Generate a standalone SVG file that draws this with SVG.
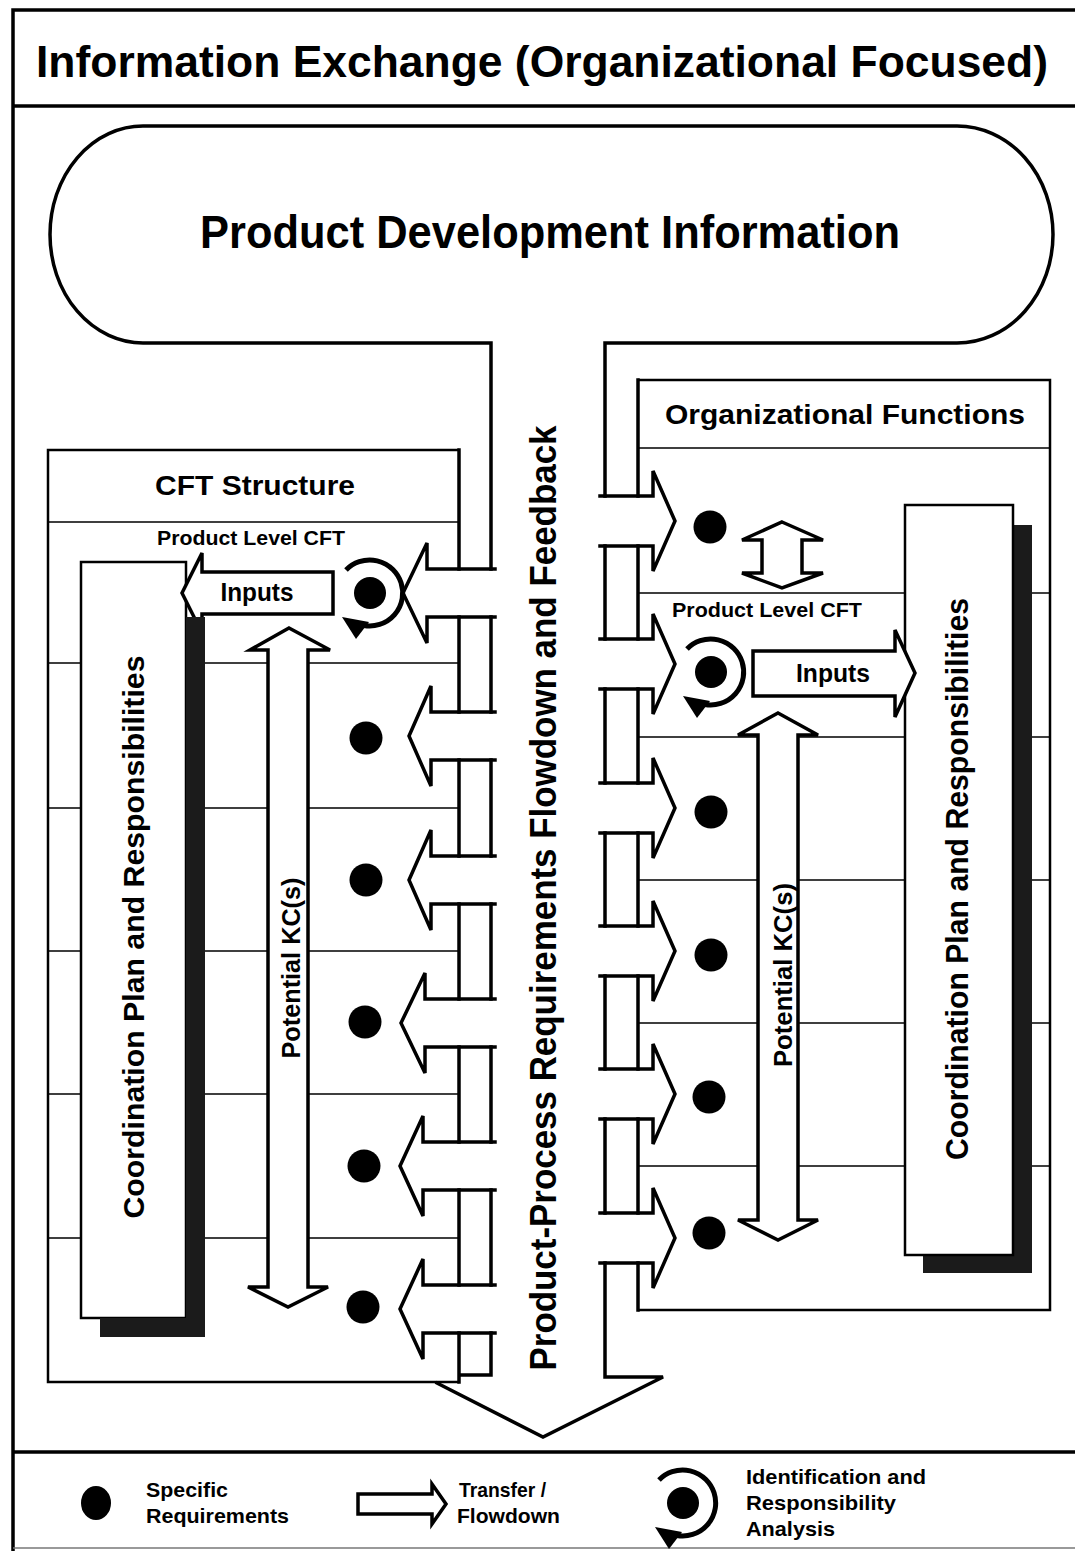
<svg xmlns="http://www.w3.org/2000/svg" xmlns:xlink="http://www.w3.org/1999/xlink" width="1075" height="1551" viewBox="0 0 1075 1551">
  <style>
    .frame { stroke:#000; stroke-width:3.5; fill:none; }
    .wall { stroke:#000; stroke-width:3.5; fill:none; stroke-linejoin:miter; stroke-linecap:square; }
    .box { stroke:#000; stroke-width:2.5; fill:none; }
    .row { stroke:#000; stroke-width:1.5; fill:none; }
    .panel { stroke:#000; stroke-width:2.5; fill:#fff; }
    .shadow { fill:#1b1b1b; }
    .blk { stroke:#000; stroke-width:3.5; fill:#fff; stroke-linejoin:miter; }
    .dot { fill:#000; }
    .t { font-family:"Liberation Sans", Arial, Helvetica, sans-serif; font-weight:bold; fill:#000; }
  </style>
  <defs>
    <!-- identification / responsibility symbol: open circular arrow -->
    <g id="idsym">
      <path d="M-24,-23 A33,33 0 1 1 -6,32.5" fill="none" stroke="#000" stroke-width="5"/>
      <polygon points="-28,24 -1,29 -14,46" fill="#000"/>
      <circle cx="0" cy="0" r="16" fill="#000"/>
    </g>
  </defs>

  <rect x="0" y="0" width="1075" height="1551" fill="#fff"/>

  <!-- page frame -->
  <g id="frame">
    <path class="frame" d="M13,1551 V10 H1075"/>
    <path class="frame" d="M13,106 H1075"/>
    <path class="frame" d="M13,1452 H1075"/>
    <path d="M13,1548 H1075" stroke="#777" stroke-width="1.5" fill="none"/>
    <text class="t" x="36" y="77" font-size="45" textLength="1012" lengthAdjust="spacingAndGlyphs">Information Exchange (Organizational Focused)</text>
  </g>

  <!-- CFT structure panel -->
  <g id="cft-structure">
    <path class="box" d="M459,450 H48 V1382 H459"/>
    <path class="row" d="M48,522 H459 M48,663 H459 M48,808 H459 M48,951 H459 M48,1094 H459 M48,1238 H459"/>
    <text class="t" x="255" y="495" font-size="28" text-anchor="middle" textLength="200" lengthAdjust="spacingAndGlyphs">CFT Structure</text>
    <text class="t" x="157" y="545" font-size="20" textLength="188" lengthAdjust="spacingAndGlyphs">Product Level CFT</text>
  </g>

  <!-- Organizational functions panel -->
  <g id="org-functions">
    <path class="box" d="M638,380 H1050 V1310 H638"/>
    <path class="row" d="M638,448 H1050 M638,593 H1050 M638,737 H1050 M638,880 H1050 M638,1023 H1050 M638,1166 H1050"/>
    <text class="t" x="845" y="424" font-size="28" text-anchor="middle" textLength="360" lengthAdjust="spacingAndGlyphs">Organizational Functions</text>
    <text class="t" x="672" y="617" font-size="20" textLength="190" lengthAdjust="spacingAndGlyphs">Product Level CFT</text>
  </g>

  <!-- coordination plan boxes with drop shadows -->
  <g id="coord-left">
    <rect class="panel" x="81" y="562" width="105" height="756"/>
    <text class="t" font-size="30" text-anchor="middle" textLength="563" lengthAdjust="spacingAndGlyphs" transform="translate(144,937) rotate(-90)">Coordination Plan and Responsibilities</text>
  </g>
  <g id="coord-right">
    <rect class="shadow" x="1013" y="525" width="19" height="748"/>
    <rect class="shadow" x="923" y="1255" width="109" height="18"/>
    <rect class="panel" x="905" y="505" width="108" height="750"/>
    <text class="t" font-size="31" text-anchor="middle" textLength="562" lengthAdjust="spacingAndGlyphs" transform="translate(968,879) rotate(-90)">Coordination Plan and Responsibilities</text>
  </g>

  <!-- potential KC double arrows -->
  <g id="kc-left">
    <path class="blk" d="M289,628 L330,650 H308 V1287 H328 L288,1307 L248,1287 H268 V650 H250 Z"/>
    <text class="t" font-size="25" text-anchor="middle" textLength="181" lengthAdjust="spacingAndGlyphs" transform="translate(300,968) rotate(-90)">Potential KC(s)</text>
  </g>
  <g id="kc-right">
    <path class="blk" d="M778,713 L818,735 H798 V1220 H818 L778,1240 L738,1220 H758 V735 H738 Z"/>
    <text class="t" font-size="26" text-anchor="middle" textLength="184" lengthAdjust="spacingAndGlyphs" transform="translate(792,975) rotate(-90)">Potential KC(s)</text>
  </g>
  <g id="link-right">
    <path class="blk" d="M782,522 L823,540 H802 V573 H823 L782,588 L742,573 H762 V540 H742 Z"/>
  </g>

  <!-- inputs arrows -->
  <g id="inputs-left">
    <path class="blk" d="M333,572 H202 V553 L182,593 L202,633 V614 H333 Z"/>
    <text class="t" x="257" y="601" font-size="25" text-anchor="middle" textLength="73" lengthAdjust="spacingAndGlyphs">Inputs</text>
  </g>
  <g id="shadow-left">
    <rect class="shadow" x="186" y="617" width="19" height="720"/>
    <rect class="shadow" x="100" y="1318" width="105" height="19"/>
  </g>
  <g id="inputs-right">
    <path class="blk" d="M753,651 H895 V630 L915,673 L895,717 V696 H753 Z"/>
    <text class="t" x="833" y="682" font-size="25" text-anchor="middle" textLength="74" lengthAdjust="spacingAndGlyphs">Inputs</text>
  </g>

  <!-- product development information source and flowdown channel -->
  <g id="connectors">
    <path class="wall" d="M491,569 V343 H143 A93,108.5 0 0 1 143,126 H957 A96,108.5 0 0 1 957,343 H605 V496"/>
    <!-- left branch arrows -->
    <path class="wall" d="M495,569 H427 V543 L403,593 L427,643 V617 H495"/>
    <path class="wall" d="M495,712 H431 V686 L409,736 L431,786 V760 H495"/>
    <path class="wall" d="M495,856 H431 V830 L409,880 L431,930 V904 H495"/>
    <path class="wall" d="M495,999 H425 V973 L401,1023 L425,1073 V1047 H495"/>
    <path class="wall" d="M495,1142 H423 V1116 L400,1166 L423,1216 V1190 H495"/>
    <path class="wall" d="M495,1285 H423 V1259 L400,1309 L423,1359 V1333 H495"/>
    <path class="wall" d="M459,450 V569 M459,617 V712 M491,617 V712 M459,760 V856 M491,760 V856 M459,904 V999 M491,904 V999 M459,1047 V1142 M491,1047 V1142 M459,1190 V1285 M491,1190 V1285 M459,1333 V1382 M491,1333 V1375 H459"/>
    <!-- right branch arrows -->
    <path class="wall" d="M600,496 H653 V471 L675,521 L653,571 V546 H600"/>
    <path class="wall" d="M600,639 H653 V614 L675,664 L653,714 V689 H600"/>
    <path class="wall" d="M600,783 H653 V758 L675,808 L653,858 V833 H600"/>
    <path class="wall" d="M600,926 H653 V901 L675,951 L653,1001 V976 H600"/>
    <path class="wall" d="M600,1069 H653 V1044 L675,1094 L653,1144 V1119 H600"/>
    <path class="wall" d="M600,1213 H653 V1188 L675,1238 L653,1288 V1263 H600"/>
    <path class="wall" d="M638,380 V496 M605,546 V639 M638,546 V639 M605,689 V783 M638,689 V783 M605,833 V926 M638,833 V926 M605,976 V1069 M638,976 V1069 M605,1119 V1213 M638,1119 V1213 M638,1263 V1310"/>
    <!-- main flowdown arrowhead -->
    <path class="wall" d="M605,1263 V1377 H663 L543,1437 L437,1383"/>
  </g>

  <g id="source">
    <text class="t" x="550" y="248" font-size="46" text-anchor="middle" textLength="700" lengthAdjust="spacingAndGlyphs">Product Development Information</text>
    <text class="t" font-size="37" text-anchor="middle" textLength="945" lengthAdjust="spacingAndGlyphs" transform="translate(556,898) rotate(-90)">Product-Process Requirements Flowdown and Feedback</text>
  </g>

  <!-- specific requirements -->
  <g id="req-left">
    <use xlink:href="#idsym" x="370" y="593"/>
    <circle class="dot" cx="366" cy="738" r="16.5"/>
    <circle class="dot" cx="366" cy="880" r="16.5"/>
    <circle class="dot" cx="365" cy="1022" r="16.5"/>
    <circle class="dot" cx="364" cy="1166" r="16.5"/>
    <circle class="dot" cx="363" cy="1307" r="16.5"/>
  </g>
  <g id="req-right">
    <circle class="dot" cx="710" cy="527" r="16.5"/>
    <use xlink:href="#idsym" x="711" y="672"/>
    <circle class="dot" cx="711" cy="812" r="16.5"/>
    <circle class="dot" cx="711" cy="955" r="16.5"/>
    <circle class="dot" cx="709" cy="1097" r="16.5"/>
    <circle class="dot" cx="709" cy="1233" r="16.5"/>
  </g>

  <!-- legend -->
  <g id="legend">
    <ellipse class="dot" cx="96" cy="1503" rx="15" ry="17"/>
    <text class="t" x="146" y="1497" font-size="21" textLength="82" lengthAdjust="spacingAndGlyphs">Specific</text>
    <text class="t" x="146" y="1523" font-size="21" textLength="143" lengthAdjust="spacingAndGlyphs">Requirements</text>
    <path class="blk" d="M358,1494 H432 V1484 L446,1504 L432,1524 V1514 H358 Z"/>
    <text class="t" x="459" y="1497" font-size="21" textLength="87" lengthAdjust="spacingAndGlyphs">Transfer /</text>
    <text class="t" x="457" y="1523" font-size="21" textLength="103" lengthAdjust="spacingAndGlyphs">Flowdown</text>
    <use xlink:href="#idsym" x="683" y="1503"/>
    <text class="t" x="746" y="1484" font-size="21" textLength="180" lengthAdjust="spacingAndGlyphs">Identification and</text>
    <text class="t" x="746" y="1510" font-size="21" textLength="150" lengthAdjust="spacingAndGlyphs">Responsibility</text>
    <text class="t" x="746" y="1536" font-size="21" textLength="89" lengthAdjust="spacingAndGlyphs">Analysis</text>
  </g>
</svg>
